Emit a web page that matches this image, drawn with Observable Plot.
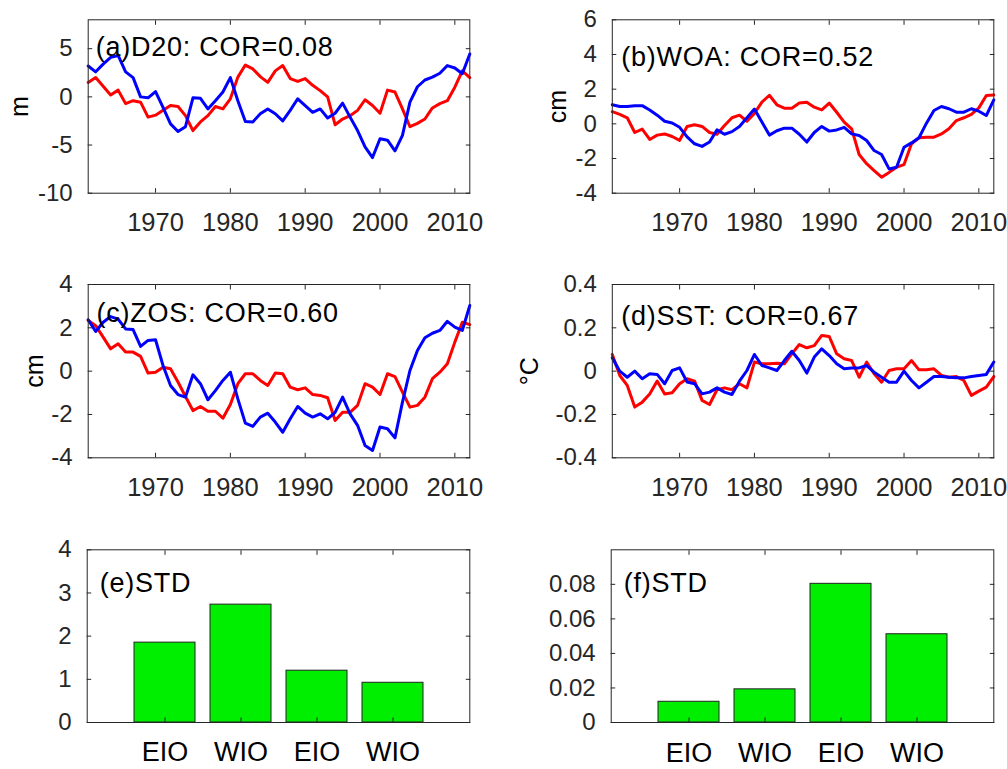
<!DOCTYPE html>
<html>
<head>
<meta charset="utf-8">
<script src="https://cdn.jsdelivr.net/npm/d3@7"></script>
<script src="https://cdn.jsdelivr.net/npm/@observablehq/plot@0.6"></script>
<style>
  html, body { margin: 0; padding: 0; background: #fff; }
  #fig { position: relative; width: 1007px; height: 769px; overflow: hidden; background: #fff; }
  #fig svg { position: absolute; }
</style>
</head>
<body>
<div id="fig"></div>
<script>
// ---------------- data ----------------
const years = [1961,1962,1963,1964,1965,1966,1967,1968,1969,1970,
               1971,1972,1973,1974,1975,1976,1977,1978,1979,1980,
               1981,1982,1983,1984,1985,1986,1987,1988,1989,1990,
               1991,1992,1993,1994,1995,1996,1997,1998,1999,2000,
               2001,2002,2003,2004,2005,2006,2007,2008,2009,2010,
               2011,2012];
const xTicks = [1970, 1980, 1990, 2000, 2010];

// (a) D20 (m)
const d20Red  = [1.5,2.0,1.1,0.2,0.7,-0.7,-0.4,-0.55,-2.1,-1.9,
                 -1.4,-0.9,-1.0,-1.95,-3.5,-2.6,-1.95,-1.0,-1.25,-0.2,
                 2.05,3.3,2.9,2.1,1.5,2.7,3.25,1.9,1.6,1.9,
                 1.2,0.65,0.0,-2.9,-2.3,-1.95,-1.4,-0.3,-0.9,-1.7,
                 0.7,0.5,-1.25,-3.1,-2.75,-2.3,-1.15,-0.7,-0.4,1.0,
                 2.7,2.0];
const d20Blue = [3.2,2.6,3.4,4.1,4.3,2.6,2.0,0.0,-0.1,0.55,
                 -1.1,-2.8,-3.6,-3.1,-0.1,-0.15,-1.25,-0.4,0.5,2.0,
                 -0.4,-2.55,-2.6,-1.75,-1.25,-1.75,-2.5,-1.4,-0.2,-0.9,
                 -1.6,-1.25,-2.2,-1.7,-0.65,-2.1,-3.5,-5.2,-6.3,-4.35,
                 -4.5,-5.6,-4.0,-0.55,1.05,1.75,2.05,2.45,3.25,3.0,
                 2.4,4.45];
// (b) WOA (cm)
const woaRed  = [0.7,0.55,0.35,-0.5,-0.3,-0.9,-0.65,-0.58,-0.73,-0.95,
                 -0.15,-0.05,-0.15,-0.5,-0.6,-0.1,0.35,0.5,0.15,0.6,
                 1.25,1.65,1.1,0.9,0.9,1.2,1.25,0.96,0.8,1.2,
                 0.67,0.1,-0.29,-1.77,-2.3,-2.7,-3.08,-2.8,-2.5,-2.35,
                 -1.15,-0.8,-0.77,-0.77,-0.58,-0.29,0.19,0.35,0.54,0.92,
                 1.63,1.67];
const woaBlue = [1.1,1.0,1.0,1.04,1.05,0.8,0.5,0.15,0.05,-0.2,
                 -0.75,-1.15,-1.3,-1.05,-0.35,-0.6,-0.45,-0.15,0.35,0.85,
                 0.1,-0.65,-0.4,-0.25,-0.25,-0.6,-1.05,-0.5,-0.15,-0.42,
                 -0.35,-0.2,-0.58,-0.67,-0.96,-1.54,-1.77,-2.6,-2.5,-1.35,
                 -1.1,-0.8,0.04,0.77,1.0,0.87,0.67,0.67,0.87,0.73,
                 0.48,1.38];
// (c) ZOS (cm)
const zosRed  = [2.34,2.1,1.57,1.03,1.26,0.88,0.88,0.68,-0.09,-0.05,
                 0.18,0.11,-0.5,-1.17,-1.82,-1.63,-1.85,-1.85,-2.17,-1.54,
                 -0.58,-0.12,-0.12,-0.43,-0.66,-0.09,-0.12,-0.74,-0.86,-0.77,
                 -1.08,-1.12,-1.23,-2.28,-1.9,-1.9,-1.58,-0.58,-0.74,-1.08,
                 -0.12,-0.25,-0.97,-1.66,-1.58,-1.2,-0.35,-0.05,0.34,1.34,
                 2.26,2.15];
const zosBlue = [2.37,1.83,2.26,2.52,2.4,1.95,1.92,1.14,1.42,1.45,
                 0.26,-0.66,-1.08,-1.2,-0.17,-0.58,-1.32,-0.9,-0.43,-0.05,
                 -1.28,-2.4,-2.55,-2.12,-1.94,-2.35,-2.82,-2.2,-1.63,-1.94,
                 -2.12,-1.97,-2.2,-1.9,-1.2,-1.97,-2.5,-3.43,-3.66,-2.58,
                 -2.66,-3.08,-1.43,0.03,0.95,1.54,1.75,1.88,2.3,2.03,
                 1.88,3.03];
// (d) SST (°C)
const sstRed  = [0.077,-0.02,-0.066,-0.166,-0.143,-0.105,-0.046,-0.105,-0.1,-0.058,
                 -0.035,-0.046,-0.135,-0.154,-0.086,-0.077,-0.086,-0.058,-0.077,0.042,
                 0.034,0.034,0.037,0.034,0.08,0.123,0.108,0.118,0.165,0.16,
                 0.08,0.057,0.049,-0.028,0.042,-0.012,-0.051,0.003,0.011,0.011,
                 0.049,0.006,0.006,0.011,-0.02,-0.028,-0.025,-0.043,-0.112,-0.092,
                 -0.074,-0.025];
const sstBlue = [0.062,0.0,-0.028,0.0,-0.035,-0.012,-0.015,-0.058,0.003,0.015,
                 -0.05,-0.058,-0.105,-0.097,-0.077,-0.097,-0.108,-0.046,0.003,0.077,
                 0.026,0.015,0.003,0.049,0.092,0.049,-0.009,0.065,0.103,0.072,
                 0.034,0.011,0.015,0.015,0.026,-0.005,-0.028,-0.051,-0.051,0.0,
                 -0.043,-0.077,-0.051,-0.025,-0.025,-0.028,-0.031,-0.031,-0.025,-0.02,
                 -0.015,0.042];

// (e), (f) STD bars
const barLabels = ["EIO", "WIO", "EIO", "WIO"];
const stdE = [1.85, 2.73, 1.20, 0.92];
const stdF = [0.012, 0.0192, 0.0803, 0.0511];

const yTicksA = [-10, -5, 0, 5];
const yTicksB = [-4, -2, 0, 2, 4, 6];
const yTicksC = [-4, -2, 0, 2, 4];
const yTicksD = [-0.4, -0.2, 0, 0.2, 0.4];
const yTicksE = [0, 1, 2, 3, 4];
const yTicksF = [0, 0.02, 0.04, 0.06, 0.08];

// ---------------- drawing ----------------
const FONT = "Liberation Sans, Arial, Helvetica, sans-serif";
const INK = "#262626";
const RED = "#ff0000";
const BLUE = "#0000ff";
const GREEN = "#00ee00";
const LW = 3;
const fig = document.getElementById("fig");
const fmt = d => String(d);

function framedAxes(xticks, yticks, xfmt, xpad, xFont) {
  return [
    Plot.axisX({anchor: "bottom", ticks: xticks, tickSize: -4.5, tickPadding: xpad, tickFormat: xfmt,
                fontSize: xFont, fill: INK, stroke: INK, label: null}),
    Plot.axisX({anchor: "top", ticks: xticks, tickSize: -4.5, fill: "none", stroke: INK, label: null}),
    Plot.axisY({anchor: "left", ticks: yticks, tickSize: -4.5, tickPadding: 20, tickFormat: fmt,
                fontSize: 24, fill: INK, stroke: INK, label: null}),
    Plot.axisY({anchor: "right", ticks: yticks, tickSize: -4.5, fill: "none", stroke: INK, label: null}),
    Plot.frame({stroke: INK, strokeWidth: 1})
  ];
}

function titleMark(t, dx, dy) {
  return Plot.text([t], {text: d => d, frameAnchor: "top-left", textAnchor: "start", lineAnchor: "bottom",
                         dx, dy, fontSize: 27, fill: "#000"});
}

function place(svg, left, top, titles) {
  svg.style.left = left + "px";
  svg.style.top = top + "px";
  svg.querySelectorAll("text").forEach(t => {
    if (titles.includes(t.textContent)) {
      t.setAttribute("letter-spacing", "0.75");
      t.style.letterSpacing = "0.75px";
    }
  });
  fig.appendChild(svg);
}

function linePanel(p) {
  const rows = years.map((yr, i) => ({year: yr, r: p.red[i], b: p.blue[i]}));
  const svg = Plot.plot({
    width: p.w, height: p.h,
    marginLeft: p.ml, marginRight: p.mr, marginTop: p.mt, marginBottom: p.mb,
    style: {fontFamily: FONT, background: "transparent", overflow: "visible"},
    x: {domain: [1961, 2012]},
    y: {domain: p.ydomain},
    marks: [
      Plot.line(rows, {x: "year", y: "r", stroke: RED, strokeWidth: LW}),
      Plot.line(rows, {x: "year", y: "b", stroke: BLUE, strokeWidth: LW}),
      ...framedAxes(xTicks, p.yticks, fmt, 24.5, 25.5),
      titleMark(p.title, p.tdx, p.tdy),
      Plot.text([p.ylabel], {text: d => d, frameAnchor: "left", rotate: -90, textAnchor: "middle",
                             lineAnchor: "middle", dx: p.ldx, fontSize: 25, fill: "#000"})
    ]
  });
  place(svg, p.left, p.top, [p.title]);
}

function barPanel(p) {
  const rows = p.values.map((v, i) => ({i, v}));
  const svg = Plot.plot({
    width: p.w, height: p.h,
    marginLeft: p.ml, marginRight: p.mr, marginTop: p.mt, marginBottom: p.mb,
    style: {fontFamily: FONT, background: "transparent", overflow: "visible"},
    x: {type: "band", domain: rows.map(d => d.i), paddingInner: 0.2, paddingOuter: 0.6},
    y: {domain: p.ydomain},
    marks: [
      Plot.barY(rows, {x: "i", y: "v", fill: GREEN, stroke: "#222", strokeWidth: 1}),
      ...framedAxes(rows.map(d => d.i), p.yticks, i => barLabels[i], p.xpad, 27),
      titleMark(p.title, p.tdx, p.tdy)
    ]
  });
  svg.querySelectorAll("text").forEach(t => { if (barLabels.includes(t.textContent)) t.setAttribute("fill", "#000"); });
  place(svg, p.left, p.top, [p.title]);
}

linePanel({left: 0, top: 0, w: 500, h: 250, ml: 87.7, mr: 30.7, mt: 19.3, mb: 57.3,
           ydomain: [-10, 8], yticks: yTicksA, red: d20Red, blue: d20Blue,
           title: "(a)D20: COR=0.08", tdx: 7.5, tdy: 36, ylabel: "m", ldx: -68});
linePanel({left: 500, top: 0, w: 507, h: 250, ml: 111.8, mr: 13.7, mt: 19.3, mb: 57.3,
           ydomain: [-4, 6], yticks: yTicksB, red: woaRed, blue: woaBlue,
           title: "(b)WOA: COR=0.52", tdx: 9, tdy: 46.5, ylabel: "cm", ldx: -54});
linePanel({left: 0, top: 250, w: 500, h: 260, ml: 87.7, mr: 30.7, mt: 34, mb: 52.7,
           ydomain: [-4, 4], yticks: yTicksC, red: zosRed, blue: zosBlue,
           title: "(c)ZOS: COR=0.60", tdx: 8.3, tdy: 37.7, ylabel: "cm", ldx: -53});
linePanel({left: 500, top: 250, w: 507, h: 260, ml: 111.8, mr: 13.7, mt: 34, mb: 52.7,
           ydomain: [-0.4, 0.4], yticks: yTicksD, red: sstRed, blue: sstBlue,
           title: "(d)SST: COR=0.67", tdx: 9, tdy: 40, ylabel: "°C", ldx: -82});
barPanel({left: 0, top: 510, w: 500, h: 259, ml: 86.7, mr: 30.7, mt: 39.3, mb: 47,
          ydomain: [0, 4], yticks: yTicksE, values: stdE, xpad: 23.5,
          title: "(e)STD", tdx: 12.5, tdy: 41.7});
barPanel({left: 500, top: 510, w: 507, h: 259, ml: 110.7, mr: 13.7, mt: 39.3, mb: 47,
          ydomain: [0, 0.1], yticks: yTicksF, values: stdF, xpad: 25,
          title: "(f)STD", tdx: 12.5, tdy: 42.4});
</script>
</body>
</html>
